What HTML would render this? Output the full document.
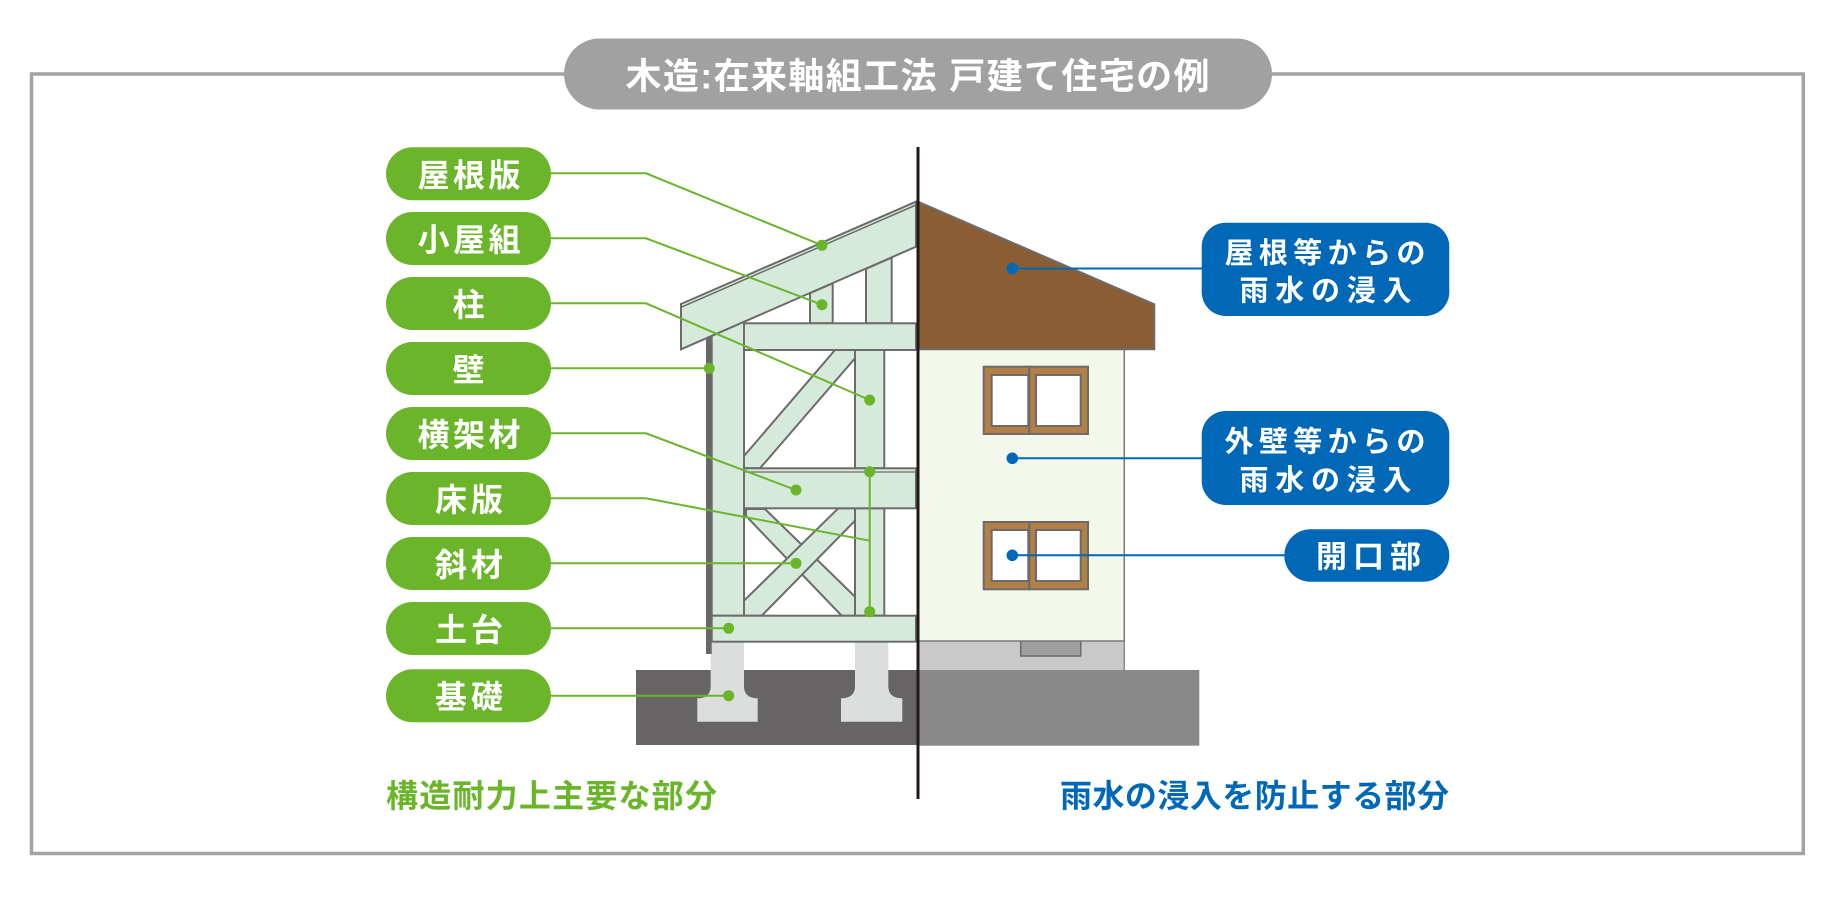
<!DOCTYPE html>
<html lang="ja">
<head>
<meta charset="utf-8">
<style>
  html,body{margin:0;padding:0;background:#fff;}
  body{width:1827px;height:900px;overflow:hidden;}
  svg{display:block;}
  text{font-family:"Liberation Sans","Noto Sans CJK JP",sans-serif;font-weight:bold;}
</style>
</head>
<body>
<svg width="1827" height="900" viewBox="0 0 1827 900" xmlns="http://www.w3.org/2000/svg">
  <!-- outer border -->
  <rect x="31.5" y="74" width="1771.8" height="779.5" fill="none" stroke="#a3a3a3" stroke-width="3.5"/>
  <!-- title pill -->
  <rect x="564" y="38.5" width="708" height="71" rx="35.5" fill="#a0a1a0"/>
  <text x="625.5" y="88.7" font-size="36" fill="#ffffff" textLength="584" lengthAdjust="spacing">木造:在来軸組工法 戸建て住宅の例</text>

  <!-- ===== Right half: finished house ===== -->
  <rect x="918" y="670" width="281.3" height="75.7" fill="#898989"/>
  <rect x="918" y="641" width="206.3" height="29" fill="#c9c9c9"/>
  <line x1="1124.3" y1="641" x2="1124.3" y2="670" stroke="#8a8a8a" stroke-width="1.5"/>
  <rect x="1020.7" y="641" width="60" height="15" fill="#9e9f9f" stroke="#6b6b6b" stroke-width="1.5"/>
  <rect x="918" y="349.3" width="206.3" height="291.7" fill="#f4f8ec" stroke="#7a7a7a" stroke-width="1.5"/>
  <polygon points="918,201.7 1154.3,304.3 1154.3,349.3 918,349.3" fill="#8a5d35" stroke="#6d6d6d" stroke-width="2"/>
  <!-- upper window -->
  <rect x="983.7" y="366.7" width="45.6" height="67.3" fill="#b27f46" stroke="#6b6b6b" stroke-width="2"/>
  <rect x="1029.3" y="366.7" width="58.7" height="67.3" fill="#b27f46" stroke="#6b6b6b" stroke-width="2"/>
  <rect x="991.7" y="375" width="36.6" height="51" fill="#ffffff" stroke="#6b6b6b" stroke-width="2"/>
  <rect x="1036" y="375" width="44.7" height="51" fill="#ffffff" stroke="#6b6b6b" stroke-width="2"/>
  <!-- lower window -->
  <rect x="983.7" y="522" width="45.6" height="67.3" fill="#b27f46" stroke="#6b6b6b" stroke-width="2"/>
  <rect x="1029.3" y="522" width="58.7" height="67.3" fill="#b27f46" stroke="#6b6b6b" stroke-width="2"/>
  <rect x="991.7" y="530" width="36.6" height="51" fill="#ffffff" stroke="#6b6b6b" stroke-width="2"/>
  <rect x="1036" y="530" width="44.7" height="51" fill="#ffffff" stroke="#6b6b6b" stroke-width="2"/>

  <!-- ===== Left half: frame ===== -->
  <rect x="636" y="670" width="282" height="75" fill="#666464"/>
  <!-- foundations -->
  <path d="M710.7,641.7 H744 V686 Q744,698.3 757.7,698.3 V721.7 H697.3 V698.3 Q710.7,698.3 710.7,686 Z" fill="#dcdddd"/>
  <path d="M855,641.7 H888.3 V686 Q888.3,698.3 902.3,698.3 V721.7 H841 V698.3 Q855,698.3 855,686 Z" fill="#dcdddd"/>

  <g stroke="#6b6b6b" stroke-width="2" fill="#d6eadb">
    <!-- wall dark edge -->
    <rect x="706" y="337" width="5.7" height="317" fill="#686868" stroke="none"/>
    <!-- lower X brace: band B then band A -->
    <polygon points="746,509 765,509 855,596.7 855,615.7 841.7,615.7 746,516"/>
    <polygon points="744,600.7 838.3,508.3 855,508.3 855,520.7 761.7,615.7 744,615.7"/>
    <!-- upper brace -->
    <polygon points="744,456 835,350 855,350 855,358.3 760,468.3 744,468.3"/>
    <!-- struts -->
    <polygon points="810,293.1 832.7,283.3 832.7,323.3 810,323.3"/>
    <polygon points="866,268.8 891.7,257.6 891.7,323.3 866,323.3"/>
    <!-- left post -->
    <rect x="711.7" y="322" width="32.3" height="293.7"/>
    <!-- inner posts -->
    <rect x="855" y="350" width="29.3" height="118.3"/>
    <rect x="855" y="508.3" width="29.3" height="107.4"/>
    <!-- top beam -->
    <rect x="744" y="323.3" width="172" height="26.7"/>
    <!-- middle beam -->
    <rect x="744" y="468.3" width="172" height="40"/>
    <!-- sill -->
    <rect x="711.7" y="615.7" width="204.3" height="26"/>
    <!-- roof board -->
    <polygon points="681,304 916,201.7 916,246.7 681,349.3"/>
  </g>
  <line x1="744" y1="472" x2="916" y2="472" stroke="#6b6b6b" stroke-width="1.3"/>
  <line x1="681" y1="307.3" x2="916" y2="205" stroke="#6b6b6b" stroke-width="1.5"/>

  <!-- ===== Green connectors ===== -->
  <g stroke="#6bb52b" stroke-width="2" fill="none">
    <polyline points="551,173.3 646,173.3 822,245.3"/>
    <polyline points="551,238.3 646,238.3 822,304.7"/>
    <polyline points="551,303.3 646,303.3 869.7,400"/>
    <polyline points="551,368.3 709.3,368.3"/>
    <polyline points="551,433.3 646,433.3 796,490"/>
    <polyline points="551,498.3 646,498.3 869.7,540.7"/>
    <polyline points="551,563.3 796,563.3"/>
    <polyline points="551,628.3 728.7,628.3"/>
    <polyline points="551,695.7 728.7,695.7"/>
    <line x1="869.7" y1="471.7" x2="869.7" y2="611.7"/>
  </g>
  <g fill="#6bb52b">
    <circle cx="822" cy="245.3" r="5.5"/>
    <circle cx="822" cy="304.7" r="5.5"/>
    <circle cx="869.7" cy="400" r="5.5"/>
    <circle cx="709.3" cy="368.3" r="5.5"/>
    <circle cx="796" cy="490" r="5.5"/>
    <circle cx="869.7" cy="471.7" r="5.5"/>
    <circle cx="869.7" cy="611.7" r="5.5"/>
    <circle cx="796" cy="563.3" r="5.5"/>
    <circle cx="728.7" cy="628.3" r="5.5"/>
    <circle cx="728.7" cy="695.7" r="5.5"/>
  </g>

  <!-- green pills -->
  <g fill="#6bb52b">
    <rect x="386" y="147.3" width="165" height="53" rx="26.5"/>
    <rect x="386" y="212" width="165" height="53" rx="26.5"/>
    <rect x="386" y="277" width="165" height="53" rx="26.5"/>
    <rect x="386" y="342" width="165" height="53" rx="26.5"/>
    <rect x="386" y="407" width="165" height="53" rx="26.5"/>
    <rect x="386" y="472" width="165" height="53" rx="26.5"/>
    <rect x="386" y="537" width="165" height="53" rx="26.5"/>
    <rect x="386" y="602" width="165" height="53" rx="26.5"/>
    <rect x="386" y="669.3" width="165" height="53" rx="26.5"/>
  </g>
  <g fill="#ffffff" font-size="32">
    <text x="417.5" y="186.3" textLength="103" lengthAdjust="spacing">屋根版</text>
    <text x="417.5" y="251" textLength="103" lengthAdjust="spacing">小屋組</text>
    <text x="452.5" y="316" >柱</text>
    <text x="452.5" y="381" >壁</text>
    <text x="417.5" y="446" textLength="103" lengthAdjust="spacing">横架材</text>
    <text x="435" y="511" textLength="68" lengthAdjust="spacing">床版</text>
    <text x="435" y="576" textLength="68" lengthAdjust="spacing">斜材</text>
    <text x="435" y="641" textLength="68" lengthAdjust="spacing">土台</text>
    <text x="435" y="708" textLength="68" lengthAdjust="spacing">基礎</text>
  </g>

  <!-- ===== Blue connectors ===== -->
  <g stroke="#0068b6" stroke-width="2" fill="none">
    <line x1="1012.3" y1="268.5" x2="1202" y2="268.5"/>
    <line x1="1012.3" y1="458.3" x2="1202" y2="458.3"/>
    <line x1="1012.3" y1="555.3" x2="1285" y2="555.3"/>
  </g>
  <g fill="#0068b6">
    <circle cx="1012.3" cy="268.5" r="5.8"/>
    <circle cx="1012.3" cy="458.3" r="5.8"/>
    <circle cx="1012.3" cy="555.3" r="5.8"/>
    <rect x="1201.7" y="222.7" width="247.6" height="93.3" rx="24"/>
    <rect x="1201.7" y="411" width="247.6" height="94" rx="24"/>
    <rect x="1284.3" y="529.3" width="165" height="52.4" rx="26.2"/>
  </g>
  <g fill="#ffffff" font-size="29">
    <text x="1224.5" y="262.8" textLength="201" lengthAdjust="spacing">屋根等からの</text>
    <text x="1239.5" y="300.5" textLength="172" lengthAdjust="spacing">雨水の浸入</text>
    <text x="1224.5" y="451.5" textLength="201" lengthAdjust="spacing">外壁等からの</text>
    <text x="1239.5" y="490" textLength="172" lengthAdjust="spacing">雨水の浸入</text>
  </g>
  <text x="1316" y="567.5" font-size="31" fill="#ffffff" textLength="105" lengthAdjust="spacing">開口部</text>

  <!-- divider -->
  <line x1="918" y1="147" x2="918" y2="799" stroke="#231815" stroke-width="3"/>

  <!-- bottom captions -->
  <text x="386" y="807" font-size="32" fill="#6bb52b" textLength="331" lengthAdjust="spacing">構造耐力上主要な部分</text>
  <text x="1060" y="807" font-size="32" fill="#0068b6" textLength="389" lengthAdjust="spacing">雨水の浸入を防止する部分</text>
</svg>
</body>
</html>
